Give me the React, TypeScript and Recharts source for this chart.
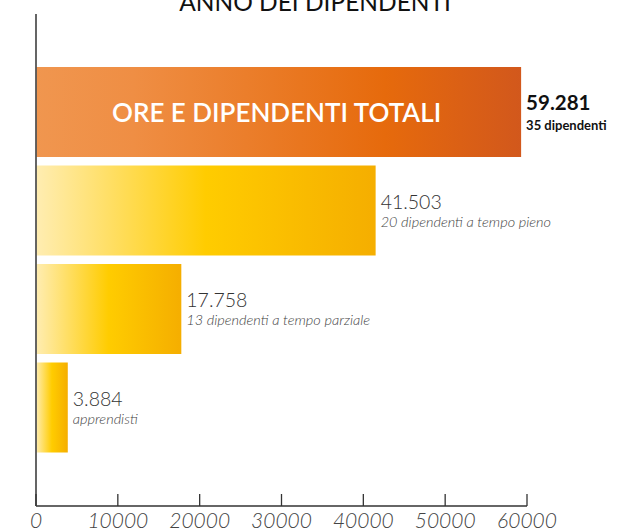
import { BarChart, Bar, XAxis, YAxis, Cell, LabelList } from "recharts";

// ore lavorate per tipo di contratto
const categories = ["Totale", "Tempo pieno", "Tempo parziale", "Apprendisti"];
const hours = [59281, 41503, 17758, 3884];
const subLabels = [
  "35 dipendenti",
  "20 dipendenti a tempo pieno",
  "13 dipendenti a tempo parziale",
  "apprendisti",
];
const xTicks = [0, 10000, 20000, 30000, 40000, 50000, 60000];
const totalTitle = "ORE E DIPENDENTI TOTALI";
const chartTitle = "ANNO DEI DIPENDENTI";

const data = categories.map((c, i) => ({ cat: c, ore: hours[i], sub: subLabels[i] }));

const FONT = "Lato, 'Open Sans', sans-serif";
const fmt = (n: number) => String(n).replace(/\B(?=(\d{3})+(?!\d))/g, ".");

function XTick({ x, y, payload }: any) {
  return (
    <g>
      <line x1={x} x2={x} y1={y - 12} y2={y} stroke="#333" strokeWidth={1.3} />
      <text x={x} y={y + 22} textAnchor="middle" fontFamily={FONT} fontStyle="italic"
        fontWeight={300} fontSize={21} fill="#444">{payload.value}</text>
    </g>
  );
}

function BarLabel(props: any) {
  const { x, y, width, height, index } = props;
  const first = index === 0;
  const lx = x + width + 5;
  const cy = y + height / 2;
  return (
    <g fontFamily={FONT}>
      {first && (
        <text x={x + width / 2 - 2} y={cy} textAnchor="middle" dominantBaseline="central"
          fill="#fff" fontSize={26} fontWeight={600}>{totalTitle}</text>
      )}
      <text x={lx} y={cy - 2} fontSize={first ? 20.5 : 19.5} fontWeight={first ? 700 : 300}
        fill={first ? "#111" : "#333"}>{fmt(hours[index])}</text>
      <text x={lx} y={cy + (first ? 18 : 16)} fontSize={first ? 13 : 14.5}
        fontWeight={first ? 700 : 300} fontStyle={first ? "normal" : "italic"}
        fill={first ? "#111" : "#444"}>{subLabels[index]}</text>
    </g>
  );
}

export default function App() {
  return (
    <div style={{ position: "absolute", left: 0, top: 0, width: 621, height: 530, overflow: "hidden", background: "#fff" }}>
      <div style={{
        position: "absolute", top: -10, left: 0, width: 630, textAlign: "center",
        fontFamily: FONT, fontSize: 24.5, fontWeight: 400, color: "#111", lineHeight: "24px",
      }}>{chartTitle}</div>
      <BarChart width={621} height={530} data={data} layout="vertical"
        margin={{ top: 14, right: 94, bottom: 0, left: 35 }}>
        <defs>
          <linearGradient id="gradTot" x1="0" y1="0" x2="1" y2="0">
            <stop offset="0" stopColor="#F0964F" />
            <stop offset="0.2" stopColor="#EF8E44" />
            <stop offset="0.72" stopColor="#E66A0C" />
            <stop offset="1" stopColor="#D2581C" />
          </linearGradient>
          <linearGradient id="gradPart" x1="0" y1="0" x2="1" y2="0">
            <stop offset="0" stopColor="#FFEDB2" />
            <stop offset="0.5" stopColor="#FFCC00" />
            <stop offset="1" stopColor="#F5AE00" />
          </linearGradient>
        </defs>
        <XAxis type="number" domain={[0, 60000]} ticks={xTicks} height={24}
          tickSize={0} tickMargin={0} tickLine={false} tick={<XTick />}
          axisLine={{ stroke: "#333", strokeWidth: 1.5 }} interval={0} />
        <YAxis type="category" dataKey="cat" width={1} tick={false} tickLine={false}
          padding={{ top: 49, bottom: 49 }} axisLine={{ stroke: "#555", strokeWidth: 1.8 }} />
        <Bar dataKey="ore" barSize={90} isAnimationActive={false}>
          {data.map((d, i) => (
            <Cell key={d.cat} fill={i === 0 ? "url(#gradTot)" : "url(#gradPart)"} />
          ))}
          <LabelList dataKey="ore" content={<BarLabel />} />
        </Bar>
      </BarChart>
    </div>
  );
}
